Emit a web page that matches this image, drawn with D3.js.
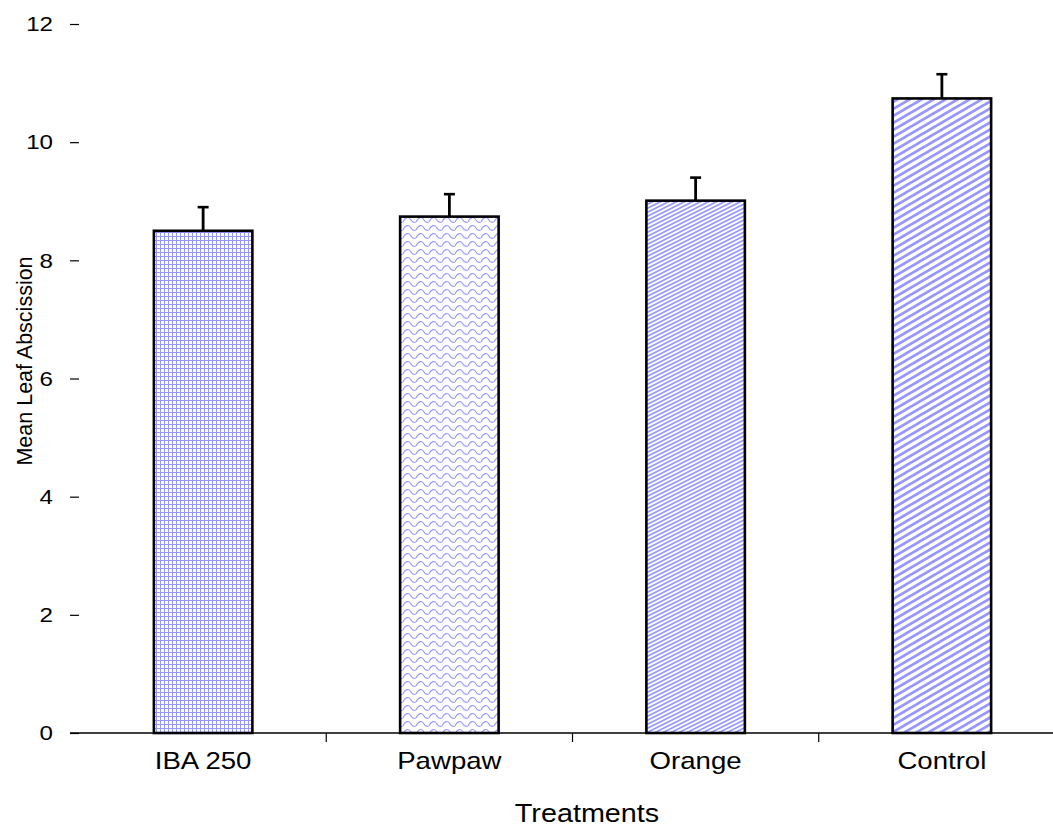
<!DOCTYPE html>
<html>
<head>
<meta charset="utf-8">
<script src="https://cdn.jsdelivr.net/npm/d3@7"></script>
<style>
  html, body { margin: 0; padding: 0; background: #fff; }
  svg { display: block; font-family: "Liberation Sans", Arial, sans-serif; }
</style>
</head>
<body>
<svg id="chart" width="1053" height="828"></svg>
<script>
// Mean leaf abscission per treatment, with standard error
const categories = ["IBA 250", "Pawpaw", "Orange", "Control"];
const means = [8.5, 8.74, 9.01, 10.74];
const errors = [0.4, 0.38, 0.39, 0.41];
const yTicks = [0, 2, 4, 6, 8, 10, 12];
const patternIds = ["grid", "scales", "fineDiag", "wideDiag"];

const svg = d3.select("#chart");
const hatch = "#9696ff";
const stretch = 1.15; // horizontally widened lettering

const x = d3.scaleBand().domain(categories).range([80, 1065]).padding(0);
const y = d3.scaleLinear().domain([0, 12]).range([733, 24]);
const barFrac = 0.4;

// ---- fill patterns ----
const defs = svg.append("defs");

const pGrid = defs.append("pattern").attr("id", "grid")
  .attr("patternUnits", "userSpaceOnUse").attr("width", 4).attr("height", 4);
pGrid.append("rect").attr("width", 4).attr("height", 4).attr("fill", "#fff");
pGrid.append("rect").attr("x", 0).attr("y", 0).attr("width", 1).attr("height", 4).attr("fill", hatch);
pGrid.append("rect").attr("x", 0).attr("y", 0).attr("width", 4).attr("height", 1).attr("fill", hatch);

const pScales = defs.append("pattern").attr("id", "scales")
  .attr("patternUnits", "userSpaceOnUse").attr("width", 13).attr("height", 8);
pScales.append("rect").attr("width", 13).attr("height", 8).attr("fill", "#fff");
pScales.append("path")
  .attr("d", "M0,6 C2,1 6,0 8,4 C9,6 11,7 13,6")
  .attr("fill", "none").attr("stroke", hatch).attr("stroke-width", 1.1);

function diagPattern(id, w, h, sw) {
  const p = defs.append("pattern").attr("id", id)
    .attr("patternUnits", "userSpaceOnUse").attr("width", w).attr("height", h);
  p.append("rect").attr("width", w).attr("height", h).attr("fill", "#fff");
  const s = h / w;
  let d = "";
  for (let k = -1; k <= 1; k++) {
    const off = k * h;
    d += `M${-w},${h + s * w + off} L${2 * w},${h - s * 2 * w + off} `;
  }
  p.append("path").attr("d", d).attr("stroke", hatch)
    .attr("stroke-width", sw).attr("fill", "none");
}
diagPattern("fineDiag", 8, 4, 1.6);
diagPattern("wideDiag", 12, 7, 2.8);

// ---- y axis (ticks only, no spine) ----
const yAxis = svg.append("g").attr("transform", "translate(79,0)")
  .call(d3.axisLeft(y).tickValues(yTicks).tickSize(9).tickPadding(13.6).tickFormat(d3.format("d")));
yAxis.select(".domain").remove();
yAxis.selectAll(".tick line").attr("stroke", "#000").attr("stroke-width", 1.2);
yAxis.selectAll(".tick text")
  .attr("font-size", 21).attr("fill", "#000")
  .attr("font-family", "Liberation Sans, Arial, sans-serif")
  .attr("transform", `scale(${stretch},1)`);

// ---- bars ----
const bw = x.bandwidth() * barFrac;
const bars = svg.append("g");
categories.forEach((c, i) => {
  const cx = x(c) + x.bandwidth() / 2;
  bars.append("rect")
    .attr("x", cx - bw / 2).attr("y", y(means[i]))
    .attr("width", bw).attr("height", y(0) - y(means[i]))
    .attr("fill", `url(#${patternIds[i]})`)
    .attr("stroke", "#000").attr("stroke-width", 2.6);
});

// ---- error bars (upper only) ----
const err = svg.append("g").attr("stroke", "#000");
categories.forEach((c, i) => {
  const cx = x(c) + x.bandwidth() / 2;
  err.append("line").attr("x1", cx).attr("x2", cx)
    .attr("y1", y(means[i])).attr("y2", y(means[i] + errors[i]))
    .attr("stroke-width", 2.8);
  err.append("line").attr("x1", cx - 5.5).attr("x2", cx + 5.5)
    .attr("y1", y(means[i] + errors[i])).attr("y2", y(means[i] + errors[i]))
    .attr("stroke-width", 2.6);
});

// ---- x axis ----
const xAxis = svg.append("g").attr("transform", `translate(0,${y(0)})`)
  .call(d3.axisBottom(x).tickSize(0).tickPadding(19));
xAxis.select(".domain").remove();
xAxis.selectAll(".tick text")
  .attr("font-size", 24).attr("fill", "#000")
  .attr("font-family", "Liberation Sans, Arial, sans-serif")
  .attr("transform", `scale(${stretch},1)`);

svg.append("line").attr("x1", 70).attr("x2", 1053)
  .attr("y1", y(0)).attr("y2", y(0))
  .attr("stroke", "#000").attr("stroke-width", 1.5);

// separators between categories
const bounds = categories.slice(1).map(c => x(c));
svg.append("g").selectAll("line").data(bounds).join("line")
  .attr("x1", d => d).attr("x2", d => d)
  .attr("y1", y(0)).attr("y2", y(0) + 9)
  .attr("stroke", "#000").attr("stroke-width", 1.2);

// ---- axis titles ----
svg.append("text")
  .attr("transform", `translate(587,822) scale(${stretch},1)`)
  .attr("text-anchor", "middle").attr("font-size", 25).attr("fill", "#000")
  .text("Treatments");

svg.append("text")
  .attr("transform", "translate(32,361) rotate(-90)")
  .attr("text-anchor", "middle").attr("font-size", 21.5).attr("fill", "#000")
  .text("Mean Leaf Abscission");
</script>
</body>
</html>
